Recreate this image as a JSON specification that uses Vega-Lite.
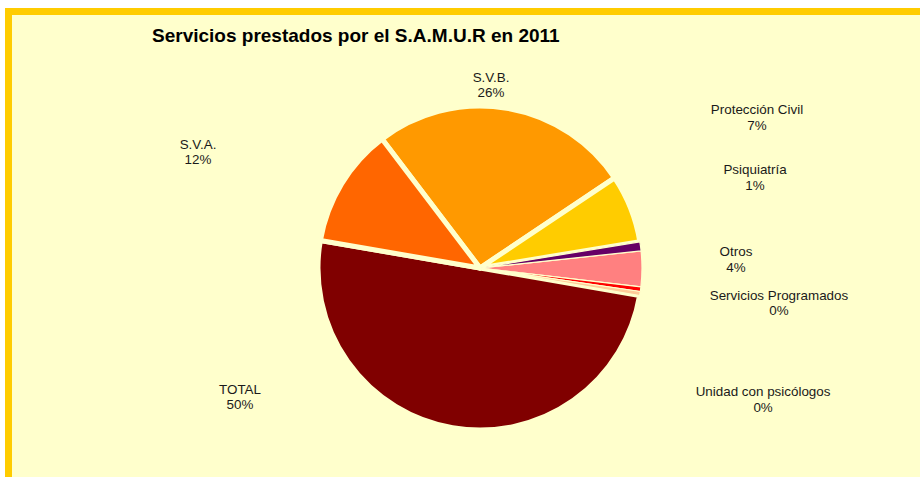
{
  "$schema": "https://vega.github.io/schema/vega-lite/v6.json",
  "width": 943,
  "height": 513,
  "autosize": {"type": "none"},
  "padding": {"left": 8.5, "top": 11.5, "right": 0, "bottom": 0},
  "background": "#ffffff",
  "config": {
    "view": {"stroke": null},
    "font": "Liberation Sans",
    "text": {"font": "Liberation Sans", "fontSize": 13.4, "color": "#1a1a1a", "lineBreak": "\n", "lineHeight": 15.5, "baseline": "middle", "align": "center", "dy": -7.5}
  },
  "title": {
    "text": "Servicios prestados por el S.A.M.U.R en 2011",
    "anchor": "start", "frame": "group", "orient": "top", "offset": 0,
    "dx": 143.5, "dy": 52.5, "baseline": "alphabetic",
    "fontSize": 19, "fontWeight": "bold", "color": "#000000", "font": "Liberation Sans"
  },
  "layer": [
    {
      "data": {"values": [{"panel": "fondo"}]},
      "mark": {"type": "rect", "fill": "#FFFFCC", "stroke": "#FFCC00", "strokeWidth": 7},
      "encoding": {}
    },
    {
      "data": {
        "values": [
          {"ord": 7, "name": "TOTAL", "value": 50},
          {"ord": 1, "name": "S.V.B.", "value": 25.95},
          {"ord": 8, "name": "S.V.A.", "value": 11.95},
          {"ord": 2, "name": "Protección Civil", "value": 6.8},
          {"ord": 4, "name": "Otros", "value": 3.55},
          {"ord": 3, "name": "Psiquiatría", "value": 0.9},
          {"ord": 5, "name": "Servicios Programados", "value": 0.45},
          {"ord": 6, "name": "Unidad con psicólogos", "value": 0.4}
        ]
      },
      "transform": [
        {"joinaggregate": [{"op": "sum", "field": "value", "as": "total"}]},
        {"stack": "value", "groupby": [], "sort": [{"field": "ord", "order": "ascending"}], "as": ["v0", "v1"]},
        {"calculate": "(datum.v0 + datum.v1) / 2", "as": "mid"},
        {"calculate": "datum.name + '\\n' + format(datum.value / datum.total, '.0%')", "as": "label"}
      ],
      "layer": [
        {
          "mark": {"type": "arc", "outerRadius": 162, "stroke": "#FFFFCC", "strokeJoin": "round"},
          "encoding": {
            "theta": {"field": "v0", "type": "quantitative", "scale": {"domain": [0, 100], "range": [-0.6493, 5.6339]}},
            "theta2": {"field": "v1"},
            "color": {
              "field": "name", "type": "nominal", "legend": null,
              "scale": {
                "domain": ["S.V.B.", "Protección Civil", "Psiquiatría", "Otros", "Servicios Programados", "Unidad con psicólogos", "TOTAL", "S.V.A."],
                "range": ["#FF9900", "#FFCC00", "#660066", "#FF8080", "#FF0000", "#FFCC99", "#800000", "#FF6600"]
              }
            },
            "strokeWidth": {"condition": {"test": "datum.value < 5", "value": 1.2}, "value": 5}
          }
        },
        {"transform": [{"filter": "datum.ord === 1"}], "mark": {"type": "text", "radius": 183.3, "thetaOffset": -0.1059},
         "encoding": {"theta": {"field": "mid", "type": "quantitative"}, "text": {"field": "label"}}},
        {"transform": [{"filter": "datum.ord === 2"}], "mark": {"type": "text", "radius": 315, "thetaOffset": -0.1204},
         "encoding": {"theta": {"field": "mid", "type": "quantitative"}, "text": {"field": "label"}}},
        {"transform": [{"filter": "datum.ord === 3"}], "mark": {"type": "text", "radius": 289.4, "thetaOffset": -0.1822},
         "encoding": {"theta": {"field": "mid", "type": "quantitative"}, "text": {"field": "label"}}},
        {"transform": [{"filter": "datum.ord === 4"}], "mark": {"type": "text", "radius": 256.1, "thetaOffset": -0.0372},
         "encoding": {"theta": {"field": "mid", "type": "quantitative"}, "text": {"field": "label"}}},
        {"transform": [{"filter": "datum.ord === 5"}], "mark": {"type": "text", "radius": 301, "thetaOffset": -0.0148},
         "encoding": {"theta": {"field": "mid", "type": "quantitative"}, "text": {"field": "label"}}},
        {"transform": [{"filter": "datum.ord === 6"}], "mark": {"type": "text", "radius": 312.3, "thetaOffset": 0.2780},
         "encoding": {"theta": {"field": "mid", "type": "quantitative"}, "text": {"field": "label"}}},
        {"transform": [{"filter": "datum.ord === 7"}], "mark": {"type": "text", "radius": 272.5, "thetaOffset": 0.9069},
         "encoding": {"theta": {"field": "mid", "type": "quantitative"}, "text": {"field": "label"}}},
        {"transform": [{"filter": "datum.ord === 8"}], "mark": {"type": "text", "radius": 304.9, "thetaOffset": -0.1559},
         "encoding": {"theta": {"field": "mid", "type": "quantitative"}, "text": {"field": "label"}}}
      ]
    }
  ]
}
